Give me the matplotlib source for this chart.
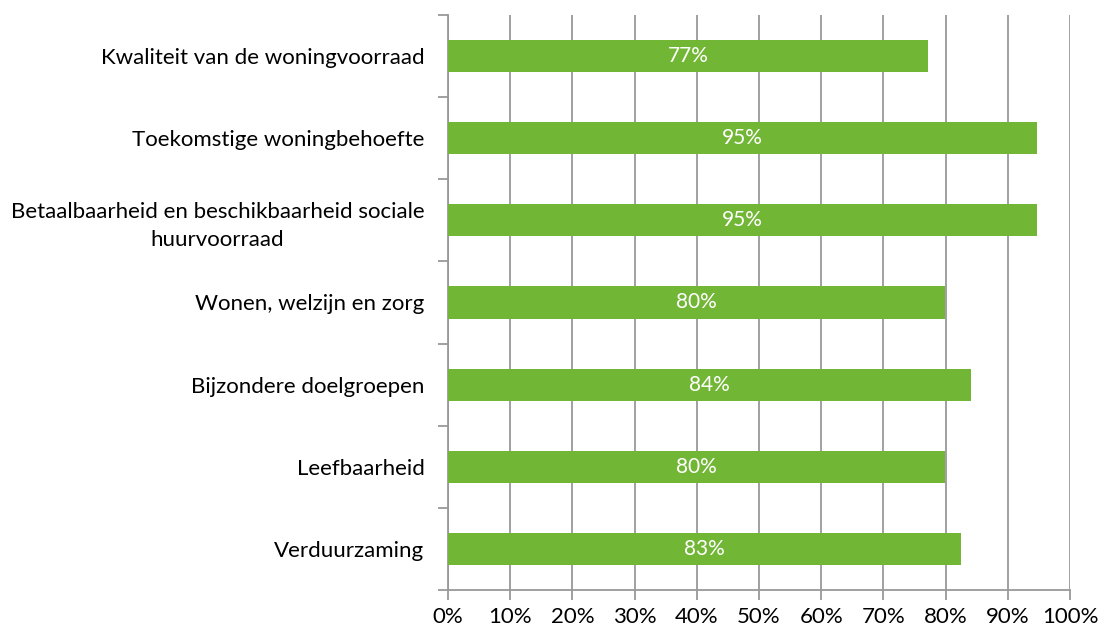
import matplotlib
matplotlib.use("Agg")
import matplotlib.pyplot as plt
from matplotlib.ticker import FixedLocator, NullFormatter

categories = [
    "Kwaliteit van de woningvoorraad",
    "Toekomstige woningbehoefte",
    "Betaalbaarheid en beschikbaarheid sociale\nhuurvoorraad",
    "Wonen, welzijn en zorg",
    "Bijzondere doelgroepen",
    "Leefbaarheid",
    "Verduurzaming",
]
values = [77.2, 94.7, 94.7, 79.9, 84.1, 79.9, 82.5]
labels = ["77%", "95%", "95%", "80%", "84%", "80%", "83%"]
xticks = list(range(0, 101, 10))

plt.rcParams["font.family"] = ["Lato", "DejaVu Sans"]

fig = plt.figure(figsize=(10.99, 6.30), dpi=100)
ax = fig.add_axes([448 / 1099, 1 - 590 / 630, 622 / 1099, 575 / 630])

n = len(categories)
ypos = list(range(n))[::-1]
green = "#72b636"
grid = "#999999"

ax.barh(ypos, values, height=0.39, color=green, zorder=3)
for y, v, lab in zip(ypos, values, labels):
    ax.text(v / 2, y, lab, ha="center", va="center", color="white",
            fontsize=15, zorder=4)

ax.set_xlim(0, 100)
ax.set_ylim(-0.5, n - 0.5)
ax.set_xticks(xticks)
ax.set_xticklabels([f"{t}%" for t in xticks], fontsize=16)
ax.xaxis.grid(True, color=grid, linewidth=1.3, zorder=0)

ax.set_yticks(ypos)
ax.set_yticklabels(categories, fontsize=16, ha="right", multialignment="center",
                   linespacing=1.45)
ax.tick_params(axis="y", length=0, pad=17)
ax.yaxis.set_minor_locator(FixedLocator([i - 0.5 for i in range(n + 1)]))
ax.yaxis.set_minor_formatter(NullFormatter())
ax.tick_params(axis="y", which="minor", length=7, width=1.3, color=grid)
ax.tick_params(axis="x", length=7, width=1.3, color=grid, pad=5)

for s in ["top", "right"]:
    ax.spines[s].set_visible(False)
for s in ["left", "bottom"]:
    ax.spines[s].set_color(grid)
    ax.spines[s].set_linewidth(1.3)

fig.savefig("out.png", dpi=100)
